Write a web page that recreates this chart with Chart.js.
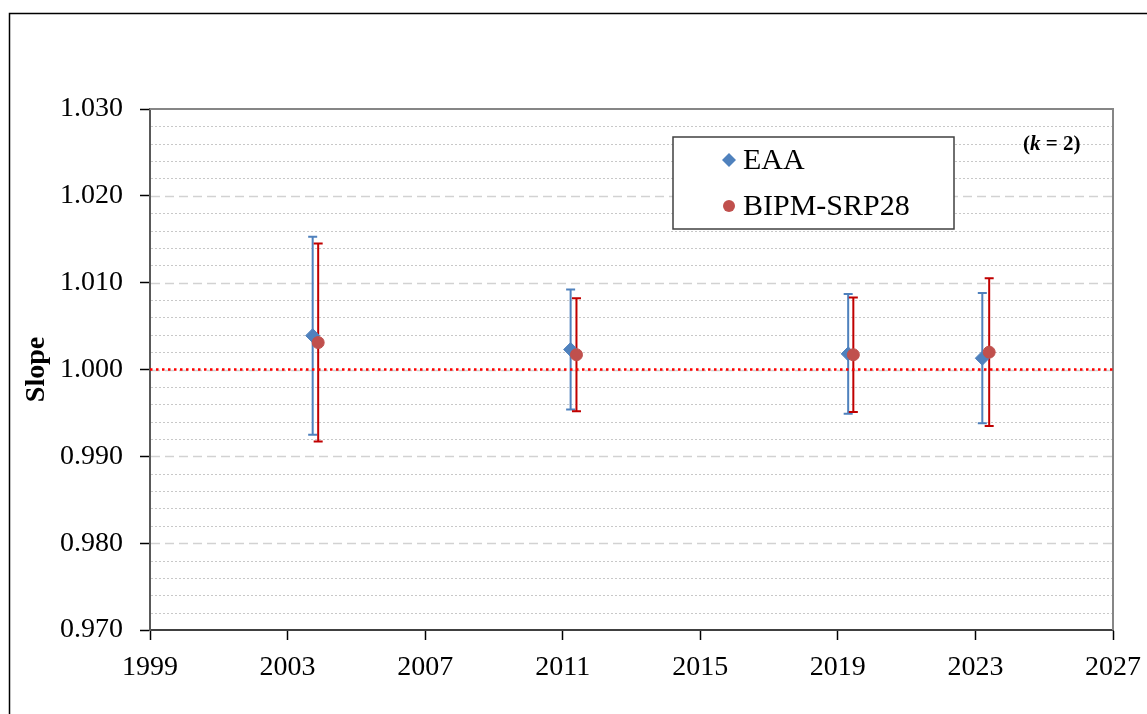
<!DOCTYPE html>
<html>
<head>
<meta charset="utf-8">
<script src="https://cdn.jsdelivr.net/npm/chart.js@4.4.1/dist/chart.umd.min.js"></script>
<style>
  body { margin: 0; background: #fff; }
  canvas { display: block; }
</style>
</head>
<body>
<canvas id="chart1" width="1147" height="714"></canvas>
<script>
// data
const eaaYears = [2003.73, 2011.23, 2019.30, 2023.20];
const eaaSlope = [1.0039, 1.0023, 1.0018, 1.0013];
const eaaErr = [0.0114, 0.0069, 0.0069, 0.0075];

const bipmYears = [2003.89, 2011.40, 2019.45, 2023.40];
const bipmSlope = [1.0031, 1.0017, 1.0017, 1.0020];
const bipmErr = [0.0114, 0.0065, 0.0066, 0.0085];

const refX = [1999, 2027];
const refY = [1.000, 1.000];

const serif = "'Liberation Serif', 'Times New Roman', serif";

function pts(xs, ys) {
  return xs.map(function (x, i) { return { x: x, y: ys[i] }; });
}

// grid lines (dashed major / dotted minor) + plot frame + error bars
const backPlugin = {
  id: 'back',
  beforeDatasetsDraw: function (chart) {
    const ctx = chart.ctx;
    const a = chart.chartArea;
    const ys = chart.scales.y;
    ctx.save();
    for (let i = 1; i < 30; i++) {
      const v = 0.970 + i * 0.002;
      const py = Math.round(ys.getPixelForValue(v)) + 0.5;
      ctx.beginPath();
      if (i % 5 === 0) {
        ctx.setLineDash([9, 5]);
        ctx.strokeStyle = '#d2d2d2';
        ctx.lineWidth = 1.5;
      } else {
        ctx.setLineDash([2, 2]);
        ctx.strokeStyle = '#c8c8c8';
        ctx.lineWidth = 1;
      }
      ctx.moveTo(a.left + 1, py);
      ctx.lineTo(a.right, py);
      ctx.stroke();
    }
    ctx.setLineDash([]);
    // top and right frame
    ctx.strokeStyle = '#868686';
    ctx.lineWidth = 2;
    ctx.beginPath();
    ctx.moveTo(a.left, a.top);
    ctx.lineTo(a.right, a.top);
    ctx.lineTo(a.right, a.bottom);
    ctx.stroke();

    // error bars
    chart.data.datasets.forEach(function (ds, di) {
      if (!ds.errors) return;
      const meta = chart.getDatasetMeta(di);
      ctx.strokeStyle = ds.errorColor;
      ctx.lineWidth = 2;
      meta.data.forEach(function (el, j) {
        const x = el.x;
        const y1 = ys.getPixelForValue(ds.data[j].y + ds.errors[j]);
        const y2 = ys.getPixelForValue(ds.data[j].y - ds.errors[j]);
        ctx.beginPath();
        ctx.moveTo(x, y1);
        ctx.lineTo(x, y2);
        ctx.moveTo(x - 4.5, y1);
        ctx.lineTo(x + 4.5, y1);
        ctx.moveTo(x - 4.5, y2);
        ctx.lineTo(x + 4.5, y2);
        ctx.stroke();
      });
    });
    ctx.restore();
  }
};

// legend box, (k = 2) note and outer frame
const frontPlugin = {
  id: 'front',
  afterDraw: function (chart) {
    const ctx = chart.ctx;
    ctx.save();
    // outer frame
    ctx.strokeStyle = '#000';
    ctx.lineWidth = 1.5;
    ctx.beginPath();
    ctx.moveTo(9.5, 714);
    ctx.lineTo(9.5, 13.5);
    ctx.lineTo(1147, 13.5);
    ctx.stroke();

    // legend
    ctx.fillStyle = '#fff';
    ctx.fillRect(673, 137, 281, 92);
    ctx.strokeStyle = '#404040';
    ctx.lineWidth = 1.5;
    ctx.strokeRect(673, 137, 281, 92);

    const rows = [160, 206];
    const items = chart.data.datasets.filter(function (d) { return d.errors; });
    items.forEach(function (ds, i) {
      const cy = rows[i];
      ctx.fillStyle = ds.backgroundColor;
      ctx.beginPath();
      if (ds.pointStyle === 'rectRot') {
        ctx.moveTo(729, cy - 7);
        ctx.lineTo(736, cy);
        ctx.lineTo(729, cy + 7);
        ctx.lineTo(722, cy);
        ctx.closePath();
      } else {
        ctx.arc(729, cy, 6, 0, Math.PI * 2);
      }
      ctx.fill();
      ctx.fillStyle = '#000';
      ctx.font = '30px ' + serif;
      ctx.textBaseline = 'middle';
      ctx.fillText(ds.label, 743, cy + 1);
    });

    // (k = 2)
    ctx.fillStyle = '#000';
    ctx.textBaseline = 'middle';
    let x = 1023;
    const parts = [['bold 21px ', '('], ['bold italic 21px ', 'k'], ['bold 21px ', ' = 2)']];
    parts.forEach(function (p) {
      ctx.font = p[0] + serif;
      ctx.fillText(p[1], x, 145);
      x += ctx.measureText(p[1]).width;
    });
    ctx.restore();
  }
};

const data = {
  datasets: [{
    label: 'EAA',
    data: pts(eaaYears, eaaSlope),
    errors: eaaErr,
    errorColor: '#4F81BD',
    backgroundColor: '#4F81BD',
    borderColor: '#4F81BD',
    pointStyle: 'rectRot',
    pointRadius: 7,
    pointHoverRadius: 7,
    order: 2
  }, {
    label: 'BIPM-SRP28',
    data: pts(bipmYears, bipmSlope),
    errors: bipmErr,
    errorColor: '#C00000',
    backgroundColor: '#C0504D',
    borderColor: '#C0504D',
    pointStyle: 'circle',
    pointRadius: 6,
    pointHoverRadius: 6,
    order: 1
  }, {
    type: 'line',
    label: 'ref',
    data: pts(refX, refY),
    borderColor: '#FF0000',
    borderWidth: 2.5,
    borderDash: [2.5, 3.5],
    pointRadius: 0,
    fill: false,
    order: 3
  }]
};

const config = {
  type: 'scatter',
  data: data,
  plugins: [backPlugin, frontPlugin],
  options: {
    responsive: false,
    animation: false,
    devicePixelRatio: 1,
    layout: { padding: { top: 109, right: 34, left: 0, bottom: 0 } },
    plugins: {
      legend: { display: false },
      tooltip: { enabled: false }
    },
    scales: {
      x: {
        type: 'linear',
        min: 1999,
        max: 2027,
        border: { color: '#404040', width: 2 },
        grid: { drawOnChartArea: false, tickLength: 10, tickColor: '#000', tickWidth: 1.5 },
        ticks: {
          stepSize: 4,
          padding: 5,
          color: '#000',
          font: { family: serif, size: 28, lineHeight: 1.6 },
          callback: function (v) { return String(v); }
        },
        afterFit: function (scale) { scale.height = 84; }
      },
      y: {
        min: 0.970,
        max: 1.030,
        border: { color: '#595959', width: 2 },
        grid: { drawOnChartArea: false, tickLength: 10, tickColor: '#000', tickWidth: 1.5 },
        ticks: {
          stepSize: 0.01,
          padding: 17,
          color: '#000',
          font: { family: serif, size: 28 },
          callback: function (v) { return v.toFixed(3); }
        },
        title: {
          display: true,
          text: 'Slope',
          color: '#000',
          font: { family: serif, size: 28, weight: 'bold' },
          padding: { top: 20, bottom: 0 }
        },
        afterFit: function (scale) { scale.width = 150; }
      }
    }
  }
};

const myChart = new Chart(
  document.getElementById('chart1'),
  config
);
</script>
</body>
</html>
